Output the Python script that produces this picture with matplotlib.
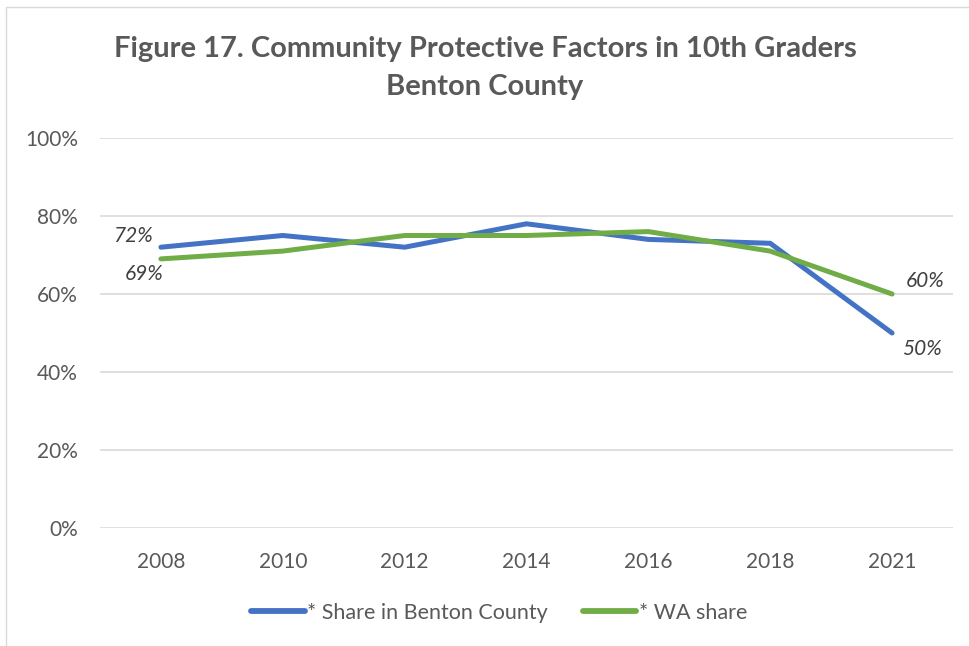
import matplotlib
matplotlib.use("Agg")
import matplotlib.pyplot as plt
from matplotlib.patches import Rectangle
from matplotlib.ticker import PercentFormatter

YEARS = ["2008", "2010", "2012", "2014", "2016", "2018", "2021"]
BENTON = [72, 75, 72, 78, 74, 73, 50]
WA = [69, 71, 75, 75, 76, 71, 60]

TITLE = "Figure 17. Community Protective Factors in 10th Graders\nBenton County"
BENTON_LABEL = "* Share in Benton County"
WA_LABEL = "* WA share"

BLUE = "#4472C4"
GREEN = "#70AD47"
TEXT = "#595959"

plt.rcParams["font.family"] = ["Lato", "DejaVu Sans"]

fig = plt.figure(figsize=(9.7, 6.46), dpi=100)
ax = fig.add_axes([100 / 970, 1 - 528 / 646, 853 / 970, 390 / 646])

x = list(range(len(YEARS)))
ax.plot(x, BENTON, color=BLUE, linewidth=3.6, solid_capstyle="round",
        solid_joinstyle="miter", label=BENTON_LABEL, zorder=3)
ax.plot(x, WA, color=GREEN, linewidth=3.6, solid_capstyle="round",
        solid_joinstyle="miter", label=WA_LABEL, zorder=3)

# data labels on the first and last points
lbl = dict(fontsize=15, style="italic", color="#404040")
ax.annotate(f"{BENTON[0]}%", (x[0], BENTON[0]), xytext=(-6, 1),
            textcoords="offset points", ha="right", va="bottom", **lbl)
ax.annotate(f"{WA[0]}%", (x[0], WA[0]), xytext=(2, -4),
            textcoords="offset points", ha="right", va="top", **lbl)
ax.annotate(f"{WA[-1]}%", (x[-1], WA[-1]), xytext=(10, 2),
            textcoords="offset points", ha="left", va="bottom", **lbl)
ax.annotate(f"{BENTON[-1]}%", (x[-1], BENTON[-1]), xytext=(7, -4),
            textcoords="offset points", ha="left", va="top", **lbl)

ax.set_xlim(-0.5, len(YEARS) - 0.5)
ax.set_ylim(0, 100)
ax.set_yticks(range(0, 101, 20))
ax.yaxis.set_major_formatter(PercentFormatter(decimals=0))
ax.set_xticks(x)
ax.set_xticklabels(YEARS)
ax.tick_params(axis="both", length=0, labelsize=15, colors=TEXT)
ax.tick_params(axis="x", pad=17)
ax.tick_params(axis="y", pad=16)
ax.grid(axis="y", color="#D9D9D9", linewidth=1.2)
ax.set_axisbelow(True)
for s in ax.spines.values():
    s.set_visible(False)

fig.text(0.5, 1 - 68 / 646, TITLE, ha="center", va="center", fontsize=21,
         fontweight="bold", color=TEXT, linespacing=1.6)

ax.legend(loc="center", bbox_to_anchor=(0.468, -0.217), ncol=2, frameon=False,
          fontsize=15.5, labelcolor=TEXT, handlelength=2.5, handletextpad=0.1,
          columnspacing=1.6, handleheight=0.7)
for h in ax.get_legend().get_lines():
    h.set_linewidth(4.2)

# chart area border
fig.add_artist(Rectangle((6 / 970, -0.1), 1.2, 1 - 7 / 646 + 0.1,
                         transform=fig.transFigure, fill=False,
                         edgecolor="#D9D9D9", linewidth=1.0))

fig.savefig("out.png", dpi=100)
